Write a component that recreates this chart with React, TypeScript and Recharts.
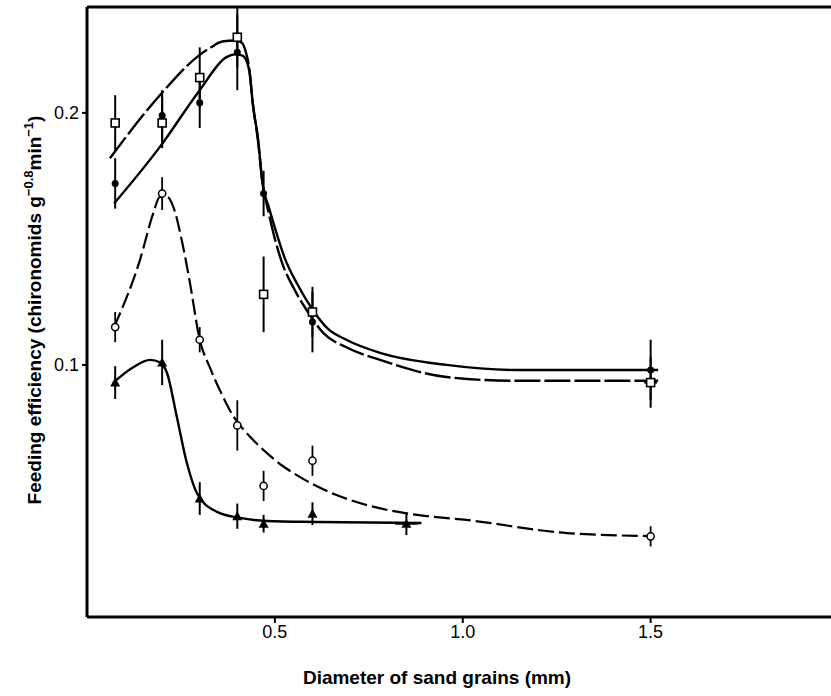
import React from "react";
import {
  ComposedChart,
  Line,
  Scatter,
  ErrorBar,
  XAxis,
  YAxis,
  ReferenceLine,
} from "recharts";

// measured diameters (mm)
const diam = [0.075, 0.2, 0.3, 0.4, 0.47, 0.6, 1.5];
const triDiam = [0.075, 0.2, 0.3, 0.4, 0.47, 0.6, 0.85];

// open squares
const squareEff = [0.196, 0.196, 0.214, 0.23, 0.128, 0.121, 0.093];
const squareErr = [0.011, 0.01, 0.012, 0.012, 0.015, 0.01, 0.01];
const squareXErr = [0, 0, 0, 0, 0, 0, 0.017];

// filled circles
const dotEff = [0.172, 0.199, 0.204, 0.224, 0.168, 0.117, 0.098];
const dotErr = [0.01, 0.01, 0.01, 0.015, 0.009, 0.012, 0.012];
const dotXErr = [0, 0, 0, 0, 0, 0, 0.017];

// open circles
const circleEff = [0.115, 0.168, 0.11, 0.076, 0.052, 0.062, 0.032];
const circleErr = [0.006, 0.0065, 0.005, 0.01, 0.006, 0.006, 0.004];

// filled triangles
const triEff = [0.093, 0.101, 0.047, 0.04, 0.037, 0.041, 0.037];
const triErr = [0.0065, 0.009, 0.0065, 0.005, 0.0035, 0.0045, 0.0045];
const triXErr = [0, 0, 0, 0, 0, 0, 0.03];

// fitted curves
const squareFitX = [0.061, 0.194, 0.3, 0.33, 0.36, 0.394, 0.412, 0.422, 0.432, 0.441, 0.455, 0.468, 0.481, 0.5, 0.518, 0.55, 0.59, 0.63, 0.69, 0.78, 0.957, 1.14, 1.52];
const squareFitY = [0.182, 0.207, 0.223, 0.226, 0.2283, 0.2287, 0.2278, 0.2245, 0.2175, 0.204, 0.189, 0.171, 0.162, 0.15, 0.141, 0.1305, 0.1205, 0.1125, 0.107, 0.102, 0.0952, 0.0937, 0.0937];

const dotFitX = [0.072, 0.194, 0.3, 0.37, 0.394, 0.412, 0.425, 0.434, 0.441, 0.455, 0.468, 0.483, 0.505, 0.526, 0.56, 0.6, 0.64, 0.69, 0.78, 0.957, 1.14, 1.52];
const dotFitY = [0.164, 0.1865, 0.209, 0.222, 0.2232, 0.2228, 0.2205, 0.2145, 0.204, 0.19, 0.171, 0.163, 0.152, 0.1425, 0.132, 0.122, 0.1145, 0.11, 0.1048, 0.1, 0.098, 0.098];

const circleFitX = [0.072, 0.141, 0.176, 0.194, 0.213, 0.229, 0.252, 0.274, 0.3, 0.327, 0.36, 0.388, 0.434, 0.479, 0.52, 0.566, 0.654, 0.745, 0.878, 1.01, 1.277, 1.497];
const circleFitY = [0.115, 0.1417, 0.16, 0.1667, 0.1667, 0.163, 0.1496, 0.1325, 0.11, 0.099, 0.088, 0.08, 0.0715, 0.065, 0.06, 0.0556, 0.049, 0.0444, 0.0405, 0.0385, 0.0333, 0.0321];

const triFitX = [0.07, 0.122, 0.168, 0.194, 0.213, 0.239, 0.266, 0.293, 0.346, 0.407, 0.479, 0.612, 0.89];
const triFitY = [0.093, 0.099, 0.102, 0.101, 0.0968, 0.0794, 0.061, 0.049, 0.0417, 0.0393, 0.0381, 0.0377, 0.0373];

const xTicks = [0.5, 1.0, 1.5];
const yTicks = [0.1, 0.2];

const toPoints = (xs: number[], ys: number[], errs?: number[], xErrs?: number[]) =>
  xs.map((x, i) => ({ x, y: ys[i], err: errs ? errs[i] : 0, xErr: xErrs ? xErrs[i] : 0 }));

const FONT = "'Liberation Sans', Arial, sans-serif";

function SquareMark(p: any) {
  return <rect x={p.cx - 4} y={p.cy - 4} width={8} height={8} fill="#fff" stroke="#000" strokeWidth={1.6} />;
}
function DotMark(p: any) {
  return <circle cx={p.cx} cy={p.cy} r={3.5} fill="#000" />;
}
function CircleMark(p: any) {
  return <circle cx={p.cx} cy={p.cy} r={3.6} fill="#fff" stroke="#000" strokeWidth={1.5} />;
}
function TriMark(p: any) {
  const s = 5;
  return (
    <polygon
      points={`${p.cx},${p.cy - s} ${p.cx - s},${p.cy + s * 0.8} ${p.cx + s},${p.cy + s * 0.8}`}
      fill="#000"
    />
  );
}

function XLabel(props: any) {
  const vb = props.viewBox;
  return (
    <text
      x={vb.x + vb.width / 2 - 22}
      y={684}
      textAnchor="middle"
      fontFamily={FONT}
      fontSize={19}
      fontWeight="bold"
      fill="#000"
    >
      Diameter of sand grains (mm)
    </text>
  );
}

function YLabel(props: any) {
  const vb = props.viewBox;
  const cx = 41;
  const cy = vb.y + vb.height / 2 - 2;
  return (
    <text
      transform={`translate(${cx},${cy}) rotate(-90)`}
      textAnchor="middle"
      fontFamily={FONT}
      fontSize={19}
      fontWeight="bold"
      fill="#000"
    >
      Feeding efficiency (chironomids g
      <tspan fontSize={13} dy={-8}>−0.8</tspan>
      <tspan dy={8}>min</tspan>
      <tspan fontSize={13} dy={-8}>−1</tspan>
      <tspan dy={8}>)</tspan>
    </text>
  );
}

export default function App() {
  const squares = toPoints(diam, squareEff, squareErr, squareXErr);
  const dots = toPoints(diam, dotEff, dotErr, dotXErr);
  const circles = toPoints(diam, circleEff, circleErr);
  const tris = toPoints(triDiam, triEff, triErr, triXErr);

  return (
    <div style={{ position: "absolute", left: 0, top: 0, background: "#fff" }}>
      <ComposedChart width={831} height={696} margin={{ top: 7, right: 0, bottom: 0, left: 0 }}>
        <XAxis
          type="number"
          dataKey="x"
          domain={[0, 1.98]}
          ticks={xTicks}
          tickFormatter={(v: number) => v.toFixed(1)}
          allowDataOverflow
          height={79}
          stroke="#000"
          axisLine={{ stroke: "#000", strokeWidth: 3 }}
          tickLine={{ stroke: "#000", strokeWidth: 2 }}
          tickSize={6}
          tick={{ fill: "#000", fontSize: 18, fontFamily: FONT }}
          label={XLabel}
        />
        <YAxis
          type="number"
          dataKey="y"
          domain={[0, 0.242]}
          ticks={yTicks}
          tickFormatter={(v: number) => v.toFixed(1)}
          allowDataOverflow
          width={87}
          stroke="#000"
          axisLine={{ stroke: "#000", strokeWidth: 3 }}
          tickLine={{ stroke: "#000", strokeWidth: 2 }}
          tickSize={5}
          tickMargin={3}
          tick={{ fill: "#000", fontSize: 18, fontFamily: FONT }}
          label={YLabel}
        />
        <ReferenceLine y={0.242} stroke="#000" strokeWidth={3} />

        <Line
          data={toPoints(squareFitX, squareFitY)}
          dataKey="y"
          type="monotone"
          stroke="#000"
          strokeWidth={2.4}
          strokeDasharray="26 4"
          dot={false}
          activeDot={false}
          isAnimationActive={false}
        />
        <Line
          data={toPoints(dotFitX, dotFitY)}
          dataKey="y"
          type="monotone"
          stroke="#000"
          strokeWidth={2.4}
          dot={false}
          activeDot={false}
          isAnimationActive={false}
        />
        <Line
          data={toPoints(circleFitX, circleFitY)}
          dataKey="y"
          type="monotone"
          stroke="#000"
          strokeWidth={2.2}
          strokeDasharray="16 5"
          dot={false}
          activeDot={false}
          isAnimationActive={false}
        />
        <Line
          data={toPoints(triFitX, triFitY)}
          dataKey="y"
          type="monotone"
          stroke="#000"
          strokeWidth={2.4}
          dot={false}
          activeDot={false}
          isAnimationActive={false}
        />

        <Scatter data={squares} dataKey="y" shape={SquareMark} isAnimationActive={false}>
          <ErrorBar dataKey="err" direction="y" width={0} stroke="#000" strokeWidth={2} />
          <ErrorBar dataKey="xErr" direction="x" width={0} stroke="#000" strokeWidth={2} />
        </Scatter>
        <Scatter data={dots} dataKey="y" shape={DotMark} isAnimationActive={false}>
          <ErrorBar dataKey="err" direction="y" width={0} stroke="#000" strokeWidth={2} />
          <ErrorBar dataKey="xErr" direction="x" width={0} stroke="#000" strokeWidth={2} />
        </Scatter>
        <Scatter data={circles} dataKey="y" shape={CircleMark} isAnimationActive={false}>
          <ErrorBar dataKey="err" direction="y" width={0} stroke="#000" strokeWidth={1.8} />
        </Scatter>
        <Scatter data={tris} dataKey="y" shape={TriMark} isAnimationActive={false}>
          <ErrorBar dataKey="err" direction="y" width={0} stroke="#000" strokeWidth={2} />
          <ErrorBar dataKey="xErr" direction="x" width={0} stroke="#000" strokeWidth={2} />
        </Scatter>
      </ComposedChart>
    </div>
  );
}
